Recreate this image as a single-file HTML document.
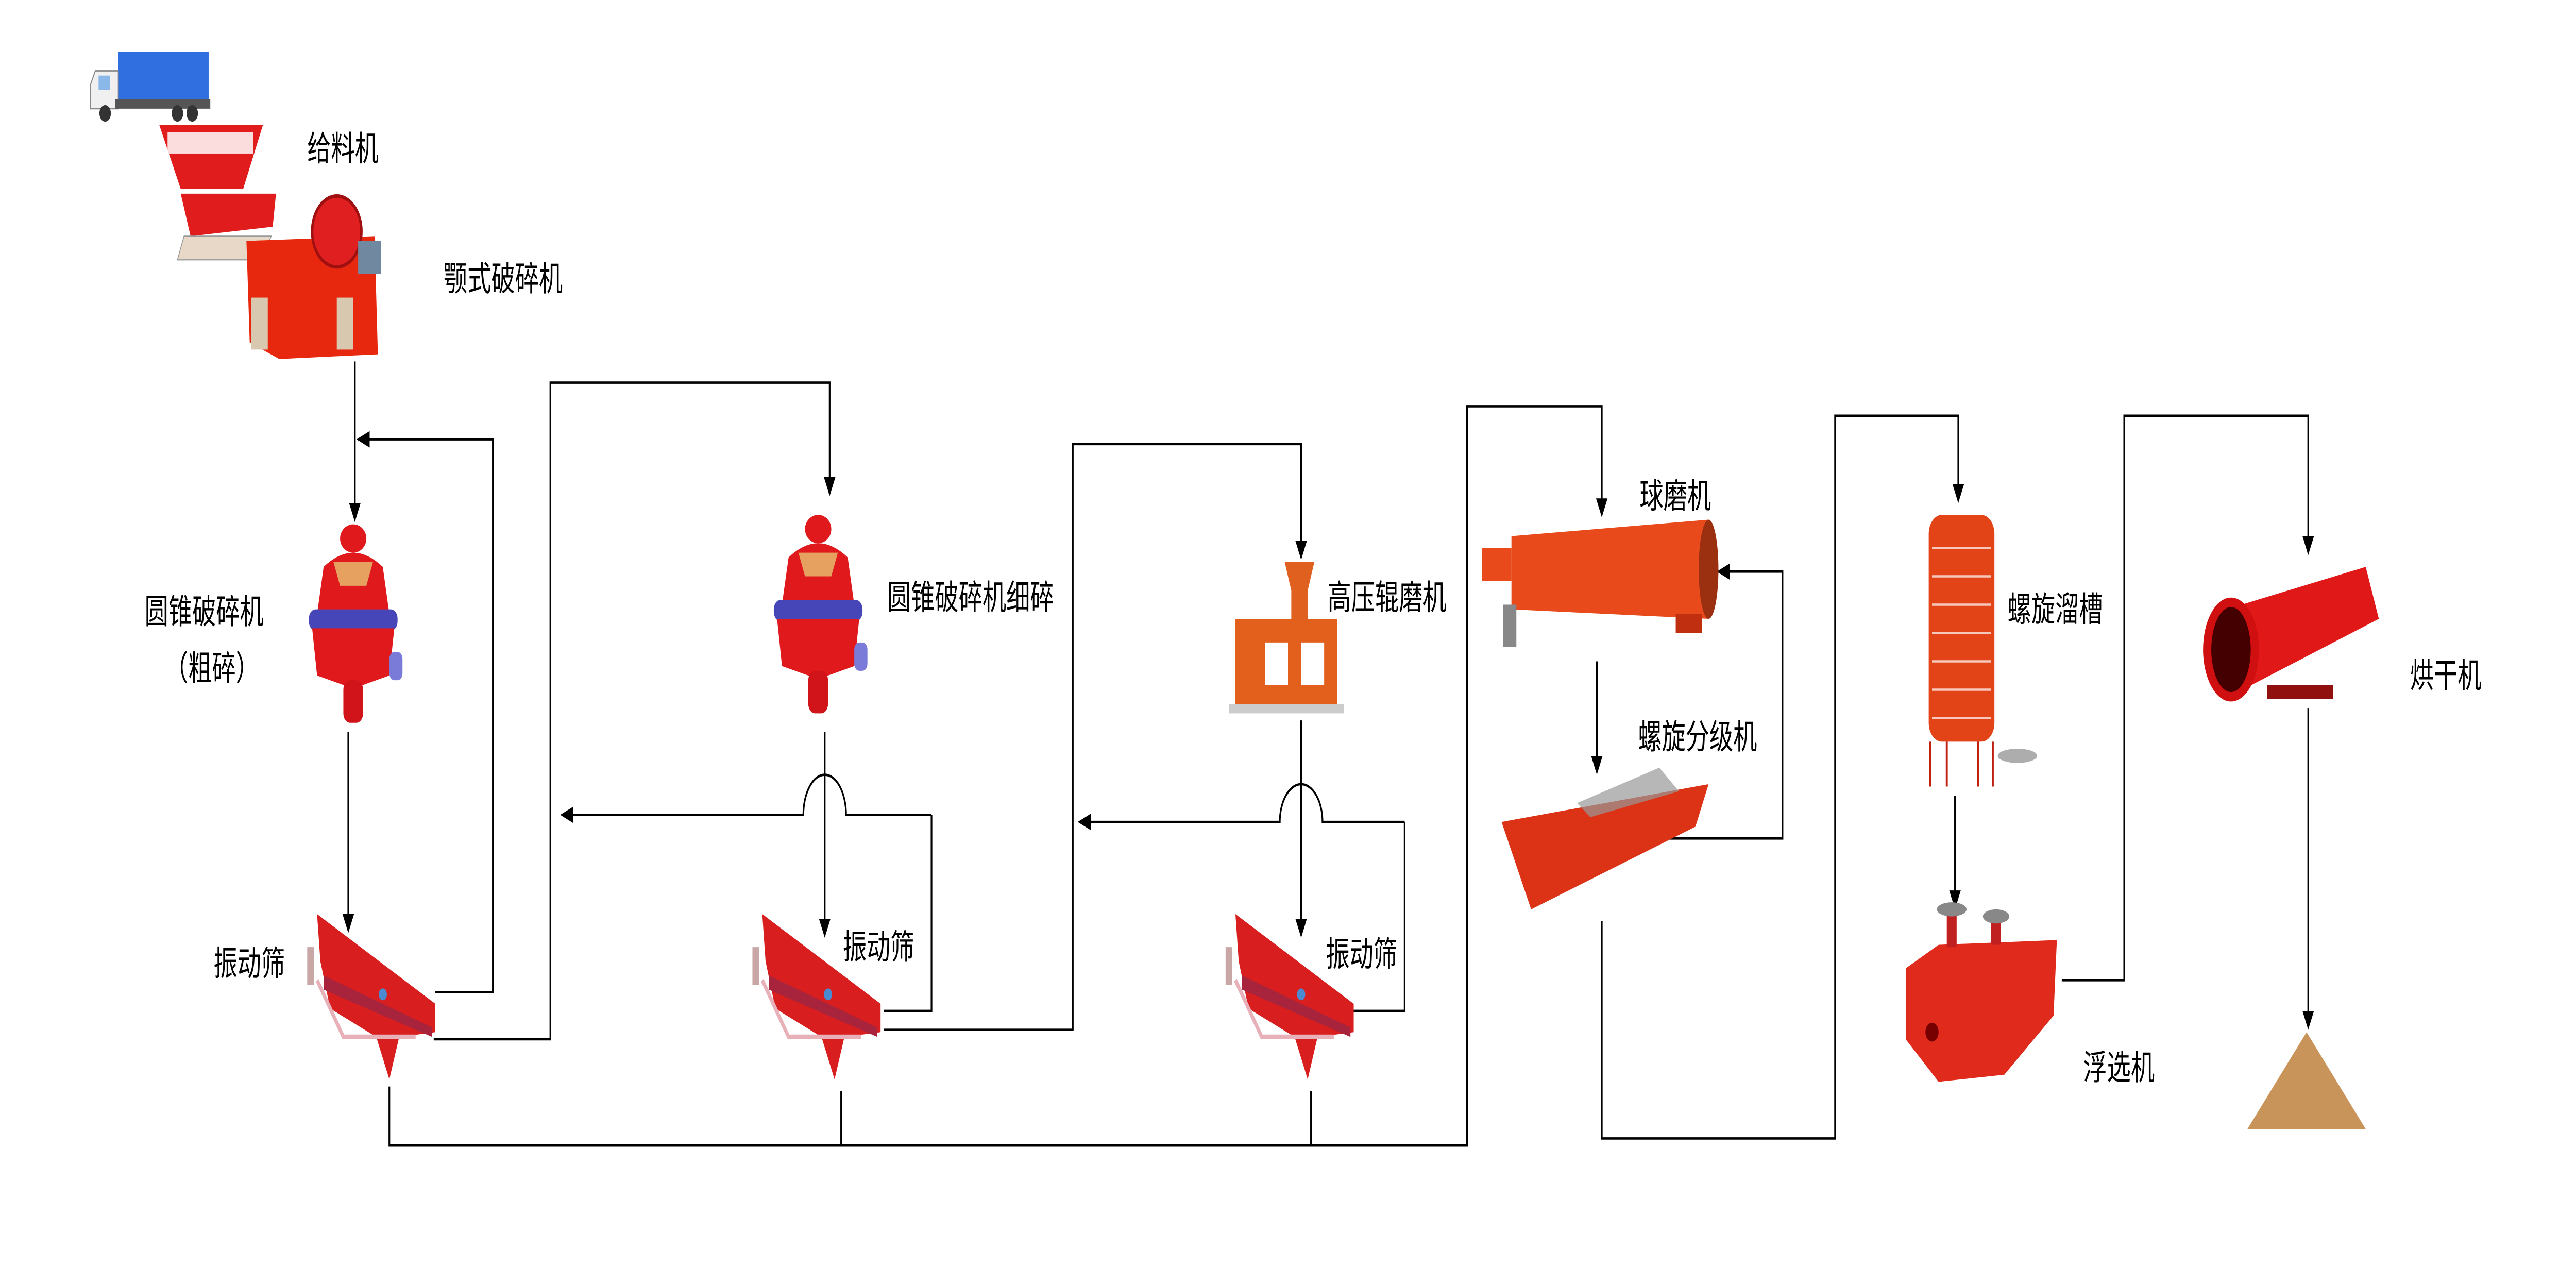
<!DOCTYPE html>
<html><head><meta charset="utf-8"><style>
html,body{margin:0;padding:0;background:#fff;width:100vw;height:100vh;overflow:hidden;}
svg{display:block;width:100vw;height:100vh;position:absolute;left:0;top:0;}
text{font-family:"Liberation Sans","Noto Sans CJK SC",sans-serif;font-size:14.5px;fill:#000;}
</style></head><body>
<svg viewBox="0 0 1568 536" preserveAspectRatio="none" xmlns="http://www.w3.org/2000/svg">
<defs>
<marker id="a" markerWidth="8" markerHeight="8" refX="7" refY="4" orient="auto" markerUnits="userSpaceOnUse"><path d="M0,0.5 L8,4 L0,7.5 Z" fill="#000"/></marker>
<g id="screen">
 <path d="M0,0 L72,38 L72,50 L50,52 L44,70 L36,52 L8,40 L2,20 Z" fill="#d81e1e"/>
 <path d="M4,26 L70,48 L70,52 L4,32 Z" fill="#a8233c"/>
 <path d="M-6,14 L-2,14 L-2,30 L-6,30 Z" fill="#c9a7a7"/>
 <path d="M0,28 L16,52 L60,52" stroke="#e8b0b8" stroke-width="2" fill="none"/>
 <circle cx="40" cy="34" r="2.5" fill="#4a8ad0"/>
</g>
<g id="cone">
 <ellipse cx="30" cy="8" rx="8" ry="6" fill="#e0191c"/>
 <path d="M12,20 Q30,8 48,20 L52,40 L8,40 Z" fill="#e0191c"/>
 <path d="M18,18 L42,18 L38,28 L22,28Z" fill="#e6a060"/>
 <rect x="3" y="38" width="54" height="9" rx="4" fill="#4646b8"/>
 <path d="M5,46 L55,46 L52,66 L36,70 L24,70 L8,66 Z" fill="#e0191c"/>
 <rect x="52" y="56" width="8" height="12" rx="3" fill="#7a7ad8"/>
 <rect x="24" y="68" width="12" height="18" rx="4" fill="#d0141a"/>
</g>
</defs>
<g stroke="#000" stroke-width="1" fill="none">
 <path d="M216,153 V220" marker-end="url(#a)"/>
 <path d="M265,420 H300 V186 H218" marker-end="url(#a)"/>
 <path d="M212,310 V394" marker-end="url(#a)"/>
 <path d="M264,440 H335 V162 H505 V209" marker-end="url(#a)"/>
 <path d="M502,310 V396" marker-end="url(#a)"/>
 <path d="M567,345 V428 H538"/>
 <path d="M567,345 H515 A13,17 0 0 0 489,345 H342" marker-end="url(#a)"/>
 <path d="M538,436 H653 V188 H792 V236" marker-end="url(#a)"/>
 <path d="M792,305 V396" marker-end="url(#a)"/>
 <path d="M855,348 V428 H824"/>
 <path d="M855,348 H805 A13,16 0 0 0 779,348 H657" marker-end="url(#a)"/>
 <path d="M237,460 V485 H893 V172 H975 V218" marker-end="url(#a)"/>
 <path d="M512,462 V485"/>
 <path d="M798,462 V485"/>
 <path d="M972,280 V327" marker-end="url(#a)"/>
 <path d="M1015,355 H1085 V242 H1046" marker-end="url(#a)"/>
 <path d="M975,390 V482 H1117 V176 H1192 V212" marker-end="url(#a)"/>
 <path d="M1190,337 V384" marker-end="url(#a)"/>
 <path d="M1255,415 H1293 V176 H1405 V234" marker-end="url(#a)"/>
 <path d="M1405,300 V435" marker-end="url(#a)"/>
</g>
<rect x="72" y="22" width="55" height="20" fill="#2f6fe0"/>
<path d="M58,30 L72,30 L72,46 L55,46 L55,36 Z" fill="#f0f0f0" stroke="#888" stroke-width="0.6"/>
<rect x="60" y="32" width="7" height="6" fill="#8ab8e8"/>
<rect x="70" y="42" width="58" height="4" fill="#555"/>
<circle cx="64" cy="48" r="3.5" fill="#333"/><circle cx="108" cy="48" r="3.5" fill="#333"/><circle cx="117" cy="48" r="3.5" fill="#333"/>
<path d="M97,53 L160,53 L148,80 L110,80 Z" fill="#e01c1c"/>
<rect x="102" y="56" width="52" height="9" fill="#fff" opacity="0.85"/>
<path d="M110,82 L168,82 L166,96 L116,100 Z" fill="#e01c1c"/>
<path d="M112,100 L165,100 L160,110 L108,110 Z" fill="#e8d8c8" stroke="#999" stroke-width="0.5"/>
<path d="M150,102 L228,100 L230,150 L170,152 L152,145 Z" fill="#e8280e"/>
<circle cx="205" cy="98" r="15" fill="#e02020" stroke="#a01010" stroke-width="1.5"/>
<rect x="218" y="102" width="14" height="14" fill="#7088a0"/>
<rect x="153" y="126" width="10" height="22" fill="#d8c8b0"/><rect x="205" y="126" width="10" height="22" fill="#d8c8b0"/>
<use href="#cone" x="185" y="220"/>
<use href="#cone" x="468" y="216"/>
<path d="M782,238 L800,238 L796,250 L796,262 L786,262 L786,250 Z" fill="#e06020"/>
<rect x="752" y="262" width="62" height="36" fill="#e35f1c"/>
<rect x="770" y="272" width="14" height="18" fill="#fff"/><rect x="792" y="272" width="14" height="18" fill="#fff"/>
<rect x="748" y="298" width="70" height="4" fill="#ccc"/>
<use href="#screen" x="193" y="387"/>
<use href="#screen" x="464" y="387"/>
<use href="#screen" x="752" y="387"/>
<rect x="902" y="232" width="18" height="14" fill="#e84a1c"/>
<path d="M920,227 L1040,220 L1040,262 L920,258 Z" fill="#e84a1c"/>
<ellipse cx="1040" cy="241" rx="6" ry="21" fill="#9a3010"/>
<rect x="915" y="256" width="8" height="18" fill="#888"/>
<rect x="1020" y="260" width="16" height="8" fill="#c03010"/>
<path d="M914,348 L1040,332 L1032,350 L932,385 Z" fill="#dc3216"/>
<path d="M960,340 L1010,325 L1022,335 L968,346 Z" fill="#999" opacity="0.7"/>
<rect x="1174" y="218" width="40" height="96" rx="8" fill="#e24418"/>
<g stroke="#fff" stroke-width="1" opacity="0.7"><path d="M1176,232 H1212 M1176,244 H1212 M1176,256 H1212 M1176,268 H1212 M1176,280 H1212 M1176,292 H1212 M1176,304 H1212"/></g>
<path d="M1175,314 V333 M1213,314 V333 M1185,314 V333 M1204,314 V333" stroke="#c02010" stroke-width="1.2"/>
<ellipse cx="1228" cy="320" rx="12" ry="3" fill="#777" opacity="0.6"/>
<path d="M1160,410 L1180,400 L1252,398 L1250,430 L1220,455 L1180,458 L1160,440 Z" fill="#e02a1c"/>
<rect x="1185" y="385" width="6" height="16" fill="#c02020"/><rect x="1212" y="388" width="6" height="12" fill="#c02020"/>
<ellipse cx="1188" cy="385" rx="9" ry="3" fill="#888"/><ellipse cx="1215" cy="388" rx="8" ry="3" fill="#888"/>
<circle cx="1176" cy="437" r="4" fill="#700"/>
<path d="M1355,258 L1440,240 L1448,262 L1365,292 Z" fill="#e01818"/>
<ellipse cx="1358" cy="275" rx="17" ry="22" fill="#d01010"/>
<ellipse cx="1358" cy="275" rx="12" ry="18" fill="#400"/>
<rect x="1380" y="290" width="40" height="6" fill="#901010"/>
<path d="M1404,437 L1440,478 L1368,478 Z" fill="#c8945a"/>
<text x="187" y="68">给料机</text>
<text x="270" y="123">颚式破碎机</text>
<text x="88" y="264">圆锥破碎机</text>
<text x="100" y="288">（粗碎）</text>
<text x="130" y="413">振动筛</text>
<text x="540" y="258">圆锥破碎机细碎</text>
<text x="513" y="406">振动筛</text>
<text x="808" y="258">高压辊磨机</text>
<text x="807" y="409">振动筛</text>
<text x="998" y="215">球磨机</text>
<text x="997" y="317">螺旋分级机</text>
<text x="1222" y="263">螺旋溜槽</text>
<text x="1268" y="457">浮选机</text>
<text x="1467" y="291">烘干机</text>
</svg>
</body></html>
